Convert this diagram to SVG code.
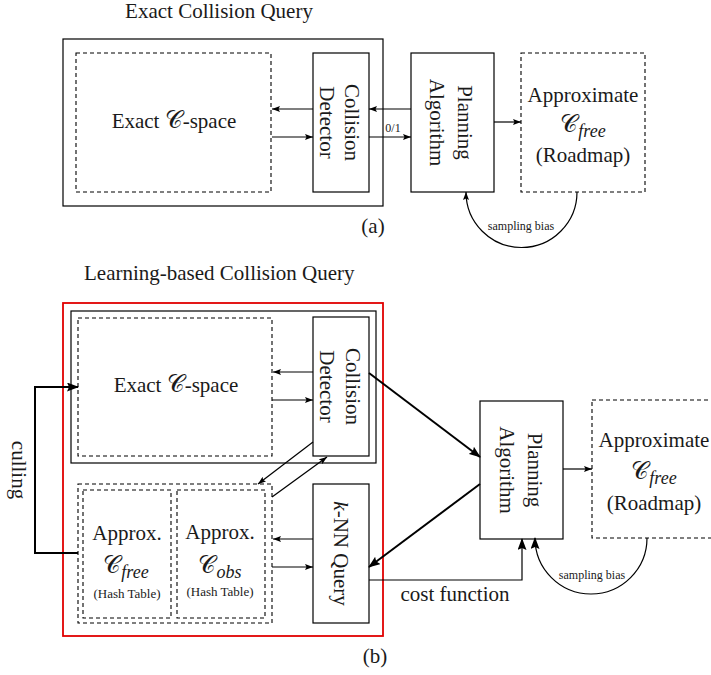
<svg xmlns="http://www.w3.org/2000/svg" width="711" height="675" viewBox="0 0 711 675">
<defs>
<marker id="ah" viewBox="0 0 8 6" markerWidth="8" markerHeight="6" refX="8" refY="3" orient="auto" markerUnits="userSpaceOnUse"><path d="M0,0 L8,3 L0,6 L1.5,3 z" fill="#000"/></marker>
<marker id="ahb" viewBox="0 0 12 9" markerWidth="12" markerHeight="9" refX="11" refY="4.5" orient="auto" markerUnits="userSpaceOnUse"><path d="M0,0 L12,4.5 L0,9 L2,4.5 z" fill="#000"/></marker>
<style>
text{font-family:"Liberation Serif","DejaVu Serif",serif;fill:#1a1a1a}
.t{font-size:21px}
.l{font-size:21px}
.s{font-size:12px}
.h{font-size:13px}
.box{fill:none;stroke:#000;stroke-width:1.2}
.red{fill:none;stroke:#e00000;stroke-width:1.8}
.dash{fill:none;stroke:#000;stroke-width:1.1;stroke-dasharray:4 3}
.c{fill:none;stroke:#000;stroke-width:1.2}
.cb{fill:none;stroke:#000;stroke-width:2}
.cal{font-family:"DejaVu Sans","DejaVu Serif","Noto Sans",serif;font-size:24px}
.sub{font-style:italic;font-size:18px}
</style>
</defs>

<!-- (a) Exact Collision Query -->
<text id="title-a" class="t" x="219" y="18" text-anchor="middle">Exact Collision Query</text>

<g id="a-outer"><rect class="box" x="63" y="39" width="320" height="167"/></g>
<g id="a-cspace">
<rect class="dash" x="76" y="53" width="195" height="139"/>
<text class="l" x="174" y="128" text-anchor="middle">Exact <tspan class="cal">𝒞</tspan>-space</text>
</g>
<g id="a-detector">
<rect class="box" x="313" y="53" width="56" height="139"/>
<text class="l" transform="translate(341,122.5) rotate(90)" text-anchor="middle"><tspan x="0" y="-4">Collision</tspan><tspan x="0" y="21">Detector</tspan></text>
</g>
<g id="a-planning">
<rect class="box" x="411" y="53" width="83" height="139"/>
<text class="l" transform="translate(452.5,122.5) rotate(90)" text-anchor="middle"><tspan x="0" y="-5.5">Planning</tspan><tspan x="0" y="23">Algorithm</tspan></text>
</g>
<g id="a-approx">
<rect class="dash" x="521" y="53" width="124" height="139"/>
<text class="l" x="583" y="102" text-anchor="middle">Approximate</text>
<text class="l" x="583" y="132" text-anchor="middle"><tspan class="cal">𝒞</tspan><tspan class="sub" dy="5">free</tspan></text>
<text class="l" x="583" y="162" text-anchor="middle">(Roadmap)</text>
</g>
<text id="label-a" class="l" x="373" y="233" text-anchor="middle">(a)</text>

<g id="a-connectors">
<line class="c" x1="313" y1="109" x2="272" y2="109" marker-end="url(#ah)"/>
<line class="c" x1="272" y1="137" x2="313" y2="137" marker-end="url(#ah)"/>
<line class="c" x1="411" y1="109" x2="369" y2="109" marker-end="url(#ah)"/>
<line class="c" x1="369" y1="137" x2="411" y2="137" marker-end="url(#ah)"/>
<text class="s" x="393" y="132" text-anchor="middle">0/1</text>
<line class="c" x1="494" y1="122" x2="521" y2="122" marker-end="url(#ah)"/>
<path class="c" d="M577,192 A55.5,55.5 0 0 1 466,192" marker-end="url(#ah)"/>
<text class="s" x="521" y="230" text-anchor="middle">sampling bias</text>
</g>

<!-- (b) Learning-based Collision Query -->
<text id="title-b" class="t" x="84" y="280">Learning-based Collision Query</text>

<g id="b-red"><rect class="red" x="63" y="303" width="320" height="333"/></g>
<g id="b-exact-outer"><rect class="box" x="71" y="311" width="305" height="152"/></g>
<g id="b-cspace">
<rect class="dash" x="78" y="318" width="194" height="138"/>
<text class="l" x="176" y="392" text-anchor="middle">Exact <tspan class="cal">𝒞</tspan>-space</text>
</g>
<g id="b-detector">
<rect class="box" x="313" y="317" width="56" height="139"/>
<text class="l" transform="translate(341,386.5) rotate(90)" text-anchor="middle"><tspan x="0" y="-5">Collision</tspan><tspan x="0" y="21">Detector</tspan></text>
</g>
<g id="b-approx-group">
<rect class="dash" x="78" y="484" width="194" height="139"/>
</g>
<g id="b-cfree">
<rect class="dash" x="83" y="490" width="88" height="128"/>
<text class="l" x="127" y="540" text-anchor="middle">Approx.</text>
<text class="l" x="126" y="573" text-anchor="middle"><tspan class="cal">𝒞</tspan><tspan class="sub" dy="5">free</tspan></text>
<text class="h" x="127" y="598" text-anchor="middle">(Hash Table)</text>
</g>
<g id="b-cobs">
<rect class="dash" x="177" y="490" width="88" height="128"/>
<text class="l" x="220" y="539" text-anchor="middle">Approx.</text>
<text class="l" x="220" y="573" text-anchor="middle"><tspan class="cal">𝒞</tspan><tspan class="sub" dy="5">obs</tspan></text>
<text class="h" x="220" y="596" text-anchor="middle">(Hash Table)</text>
</g>
<g id="b-knn">
<rect class="box" x="313" y="484" width="56" height="139"/>
<text class="l" transform="translate(341,553.5) rotate(90)" text-anchor="middle"><tspan x="0" y="7" font-style="italic">k</tspan>-NN Query</text>
</g>
<g id="b-planning">
<rect class="box" x="480" y="401" width="83" height="138"/>
<text class="l" transform="translate(521.5,470) rotate(90)" text-anchor="middle"><tspan x="0" y="-6.5">Planning</tspan><tspan x="0" y="22">Algorithm</tspan></text>
</g>
<g id="b-approx">
<rect class="dash" x="592" y="400" width="124" height="138"/>
<text class="l" x="654" y="447" text-anchor="middle">Approximate</text>
<text class="l" x="654" y="479" text-anchor="middle"><tspan class="cal">𝒞</tspan><tspan class="sub" dy="5">free</tspan></text>
<text class="l" x="654" y="510" text-anchor="middle">(Roadmap)</text>
</g>
<text id="culling" class="l" transform="translate(12,470) rotate(90)" text-anchor="middle">culling</text>
<text id="label-b" class="l" x="375" y="663" text-anchor="middle">(b)</text>

<g id="b-connectors">
<line class="c" x1="313" y1="372" x2="273" y2="372" marker-end="url(#ah)"/>
<line class="c" x1="272" y1="400" x2="313" y2="400" marker-end="url(#ah)"/>
<line class="c" x1="313" y1="442" x2="258" y2="484" marker-end="url(#ah)"/>
<line class="c" x1="272" y1="497" x2="327" y2="457" marker-end="url(#ah)"/>
<line class="c" x1="313" y1="539" x2="273" y2="539" marker-end="url(#ah)"/>
<line class="c" x1="272" y1="567" x2="313" y2="567" marker-end="url(#ah)"/>
<line class="cb" x1="369" y1="373" x2="480" y2="457" marker-end="url(#ahb)"/>
<line class="cb" x1="480" y1="484" x2="369" y2="567" marker-end="url(#ahb)"/>
<path class="c" d="M369,580 H522 V539" marker-end="url(#ahb)"/>
<text class="l" x="455" y="601" text-anchor="middle">cost function</text>
<line class="c" x1="563" y1="469" x2="592" y2="469" marker-end="url(#ah)"/>
<path class="c" d="M647,538 A56,56 0 0 1 535,538" marker-end="url(#ahb)"/>
<text class="s" x="592" y="579" text-anchor="middle">sampling bias</text>
<path class="cb" d="M78,553 H35 V387 H78" marker-end="url(#ahb)"/>
</g>
</svg>
